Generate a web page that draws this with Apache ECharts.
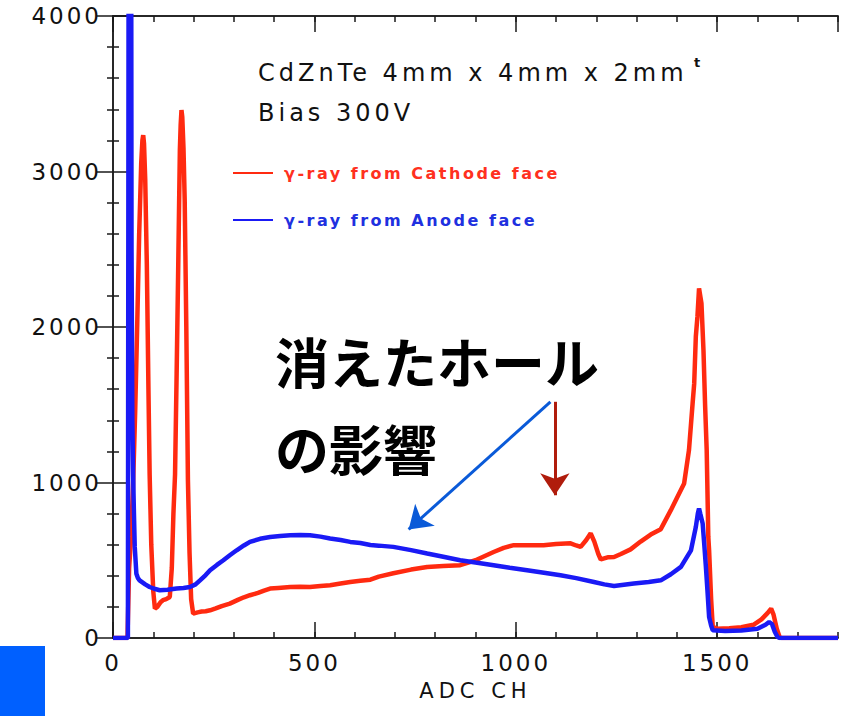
<!DOCTYPE html>
<html>
<head>
<meta charset="utf-8">
<script src="https://cdn.jsdelivr.net/npm/echarts@6/dist/echarts.min.js"></script>
<style>
  html, body { margin: 0; padding: 0; background: #fff; }
  #main { width: 843px; height: 716px; }
  /* the plot uses a widely spaced plotter font */
  #main text[style*="23px"] { letter-spacing: 3px; }
  #main text[style*="21px"] { letter-spacing: 5px; }
  #main text[style*="24px"] { letter-spacing: 4px; }
  #main text[style*="16px"] { letter-spacing: 2.5px; }
</style>
</head>
<body>
<div id="main"></div>
<script>
// spectrum: channel / counts
const redCh = [0, 36, 40, 45, 50, 55, 60, 65, 70, 73, 75, 77, 80, 84, 88, 91, 95, 100, 104, 110, 118, 124, 132, 141, 146, 150, 154, 158, 162, 166, 168, 170, 172, 175, 178, 182, 186, 190, 194, 199, 210, 220, 230, 241, 255, 270, 290, 310, 325, 340, 360, 375, 390, 410, 440, 465, 489, 515, 539, 565, 589, 614, 639, 660, 696, 740, 780, 820, 862, 900, 945, 970, 995, 1030, 1069, 1100, 1136, 1150, 1161, 1175, 1186, 1195, 1205, 1211, 1230, 1244, 1261, 1285, 1310, 1335, 1360, 1385, 1400, 1418, 1430, 1439, 1443, 1447, 1451, 1455, 1458, 1461, 1466, 1470, 1474, 1478, 1480, 1485, 1489, 1500, 1530, 1560, 1590, 1610, 1625, 1634, 1640, 1648, 1655, 1660, 1800]
const redCounts = [0, 0, 450, 650, 1000, 1450, 2000, 2600, 3050, 3200, 3234, 3180, 2950, 2400, 1600, 1050, 600, 300, 189, 200, 230, 243, 250, 264, 450, 800, 1050, 1700, 2400, 3138, 3300, 3395, 3350, 3150, 2817, 2000, 1017, 550, 250, 157, 165, 170, 172, 178, 190, 205, 221, 245, 262, 275, 290, 305, 318, 322, 328, 330, 328, 335, 339, 350, 360, 368, 375, 395, 416, 440, 457, 463, 468, 500, 553, 580, 597, 597, 597, 605, 609, 595, 586, 630, 673, 620, 540, 505, 520, 521, 540, 570, 620, 665, 700, 822, 900, 994, 1208, 1508, 1637, 1937, 2066, 2248, 2200, 2152, 1850, 1500, 1208, 650, 564, 250, 71, 60, 62, 70, 85, 120, 160, 189, 150, 60, 6, 0, 0]

const blueCh = [0, 37, 39, 45, 46, 48, 50, 52, 54, 58, 62, 66, 80, 91, 105, 116, 135, 158, 175, 191, 205, 216, 230, 241, 258, 274, 290, 307, 325, 340, 365, 390, 415, 440, 465, 489, 515, 539, 565, 589, 614, 639, 660, 696, 740, 780, 820, 862, 900, 945, 985, 1028, 1070, 1111, 1150, 1194, 1220, 1244, 1293, 1330, 1360, 1385, 1410, 1435, 1447, 1452, 1455, 1458, 1464, 1468, 1472, 1476, 1480, 1485, 1489, 1520, 1560, 1600, 1620, 1629, 1636, 1643, 1650, 1655, 1800]
const blueCounts = [0, 0, 5000, 5000, 2500, 1400, 1050, 800, 586, 414, 385, 371, 345, 328, 315, 307, 310, 318, 322, 328, 345, 371, 405, 436, 470, 500, 532, 564, 595, 618, 638, 650, 656, 661, 663, 661, 652, 640, 630, 618, 611, 598, 594, 586, 565, 543, 522, 500, 485, 468, 452, 436, 420, 403, 385, 360, 345, 335, 350, 360, 371, 410, 457, 564, 714, 800, 833, 800, 736, 600, 457, 300, 135, 80, 50, 45, 48, 60, 85, 103, 90, 40, 6, 0, 0]

const seriesNames = ['γ-ray from Cathode face', 'γ-ray from Anode face']
const xMajorTicks = [0, 500, 1000, 1500]

const pairs = (xs, ys) => xs.map((x, i) => [x, ys[i]])

const myChart = echarts.init(document.getElementById('main'), null, { renderer: 'svg' })
const numFont = 'DejaVu Sans'
const frame = '#1a1a1a'

function xAx (pos, step, len, labels) {
  return {
    type: 'value',
    position: pos,
    min: 0,
    max: 1800,
    interval: step,
    axisLine: { show: true, lineStyle: { color: frame, width: 1.5 } },
    axisTick: { show: true, inside: true, length: len, lineStyle: { color: frame, width: 1.5 } },
    axisLabel: {
      show: labels,
      showMaxLabel: false,
      color: '#111',
      fontSize: 23,
      fontFamily: numFont,
      margin: 13,
      formatter: v => (xMajorTicks.indexOf(v) >= 0 ? String(v) : '')
    },
    splitLine: { show: false }
  }
}

function yAx (pos, labels) {
  return {
    type: 'value',
    position: pos,
    min: 0,
    max: 4000,
    interval: 1000,
    axisLine: { show: true, lineStyle: { color: frame, width: 1.5 } },
    axisTick: { show: true, inside: true, length: 16, lineStyle: { color: frame, width: 1.5 } },
    minorTick: { show: true, splitNumber: 5, length: 6, lineStyle: { color: frame, width: 1.5 } },
    axisLabel: { show: labels, color: '#111', fontSize: 23, fontFamily: numFont, margin: 11, formatter: v => String(v) },
    splitLine: { show: false },
    minorSplitLine: { show: false }
  }
}

const bottomMain = xAx('bottom', 500, 16, true)
bottomMain.name = 'ADC CH'
bottomMain.nameLocation = 'middle'
bottomMain.nameGap = 42
bottomMain.nameTextStyle = { color: '#111', fontSize: 21, fontFamily: numFont }

myChart.setOption({
  animation: false,
  backgroundColor: '#fff',
  grid: { left: 113, right: 5, top: 16, bottom: 78, containLabel: false },
  legend: {
    orient: 'vertical',
    left: 233,
    top: 165,
    padding: 0,
    icon: 'rect',
    itemWidth: 40,
    itemHeight: 2,
    itemGap: 31,
    textStyle: { fontSize: 16, fontWeight: 'bold', fontFamily: numFont, padding: [0, 0, 0, 6] },
    data: [
      { name: seriesNames[0], textStyle: { color: '#ff3020' } },
      { name: seriesNames[1], textStyle: { color: '#2030e0' } }
    ]
  },
  xAxis: [
    bottomMain,
    xAx('bottom', 100, 6, false),
    xAx('top', 500, 16, false),
    xAx('top', 100, 6, false)
  ],
  yAxis: [yAx('left', true), yAx('right', false)],
  series: [
    {
      name: seriesNames[0],
      type: 'line',
      symbol: 'none',
      color: '#ff2a10',
      lineStyle: { width: 4.5 },
      data: pairs(redCh, redCounts),
      markLine: {
        silent: true,
        symbol: ['none', 'arrow'],
        symbolSize: 22,
        label: { show: false },
        data: [
          [{ coord: [1086, 1519], lineStyle: { color: '#0a5ad8', width: 3, type: 'solid' } }, { coord: [734, 698] }],
          [{ coord: [1097, 1519], lineStyle: { color: '#b01c0c', width: 3, type: 'solid' } }, { coord: [1097, 918] }]
        ]
      }
    },
    {
      name: seriesNames[1],
      type: 'line',
      symbol: 'none',
      color: '#1a1af5',
      lineStyle: { width: 4.5 },
      data: pairs(blueCh, blueCounts)
    }
  ],
  graphic: [
    {
      type: 'text',
      x: 258,
      y: 73,
      style: { text: 'CdZnTe 4mm x 4mm x 2mm', fill: '#111', font: '24px "DejaVu Sans"', verticalAlign: 'middle' }
    },
    {
      type: 'text',
      x: 694,
      y: 62,
      style: { text: 't', fill: '#111', font: 'bold 13px "DejaVu Sans"', verticalAlign: 'middle' }
    },
    {
      type: 'text',
      x: 258,
      y: 113,
      style: { text: 'Bias 300V', fill: '#111', font: '24px "DejaVu Sans"', verticalAlign: 'middle' }
    },
    {
      type: 'text',
      x: 275,
      y: 360,
      style: { text: '消えたホール', fill: '#000', font: 'bold 54px "Noto Sans CJK JP"', verticalAlign: 'middle' }
    },
    {
      type: 'text',
      x: 275,
      y: 447,
      style: { text: 'の影響', fill: '#000', font: 'bold 54px "Noto Sans CJK JP"', verticalAlign: 'middle' }
    },
    {
      type: 'rect',
      shape: { x: 0, y: 646, width: 45, height: 70 },
      style: { fill: '#0060ff' }
    }
  ]
})
</script>
</body>
</html>
